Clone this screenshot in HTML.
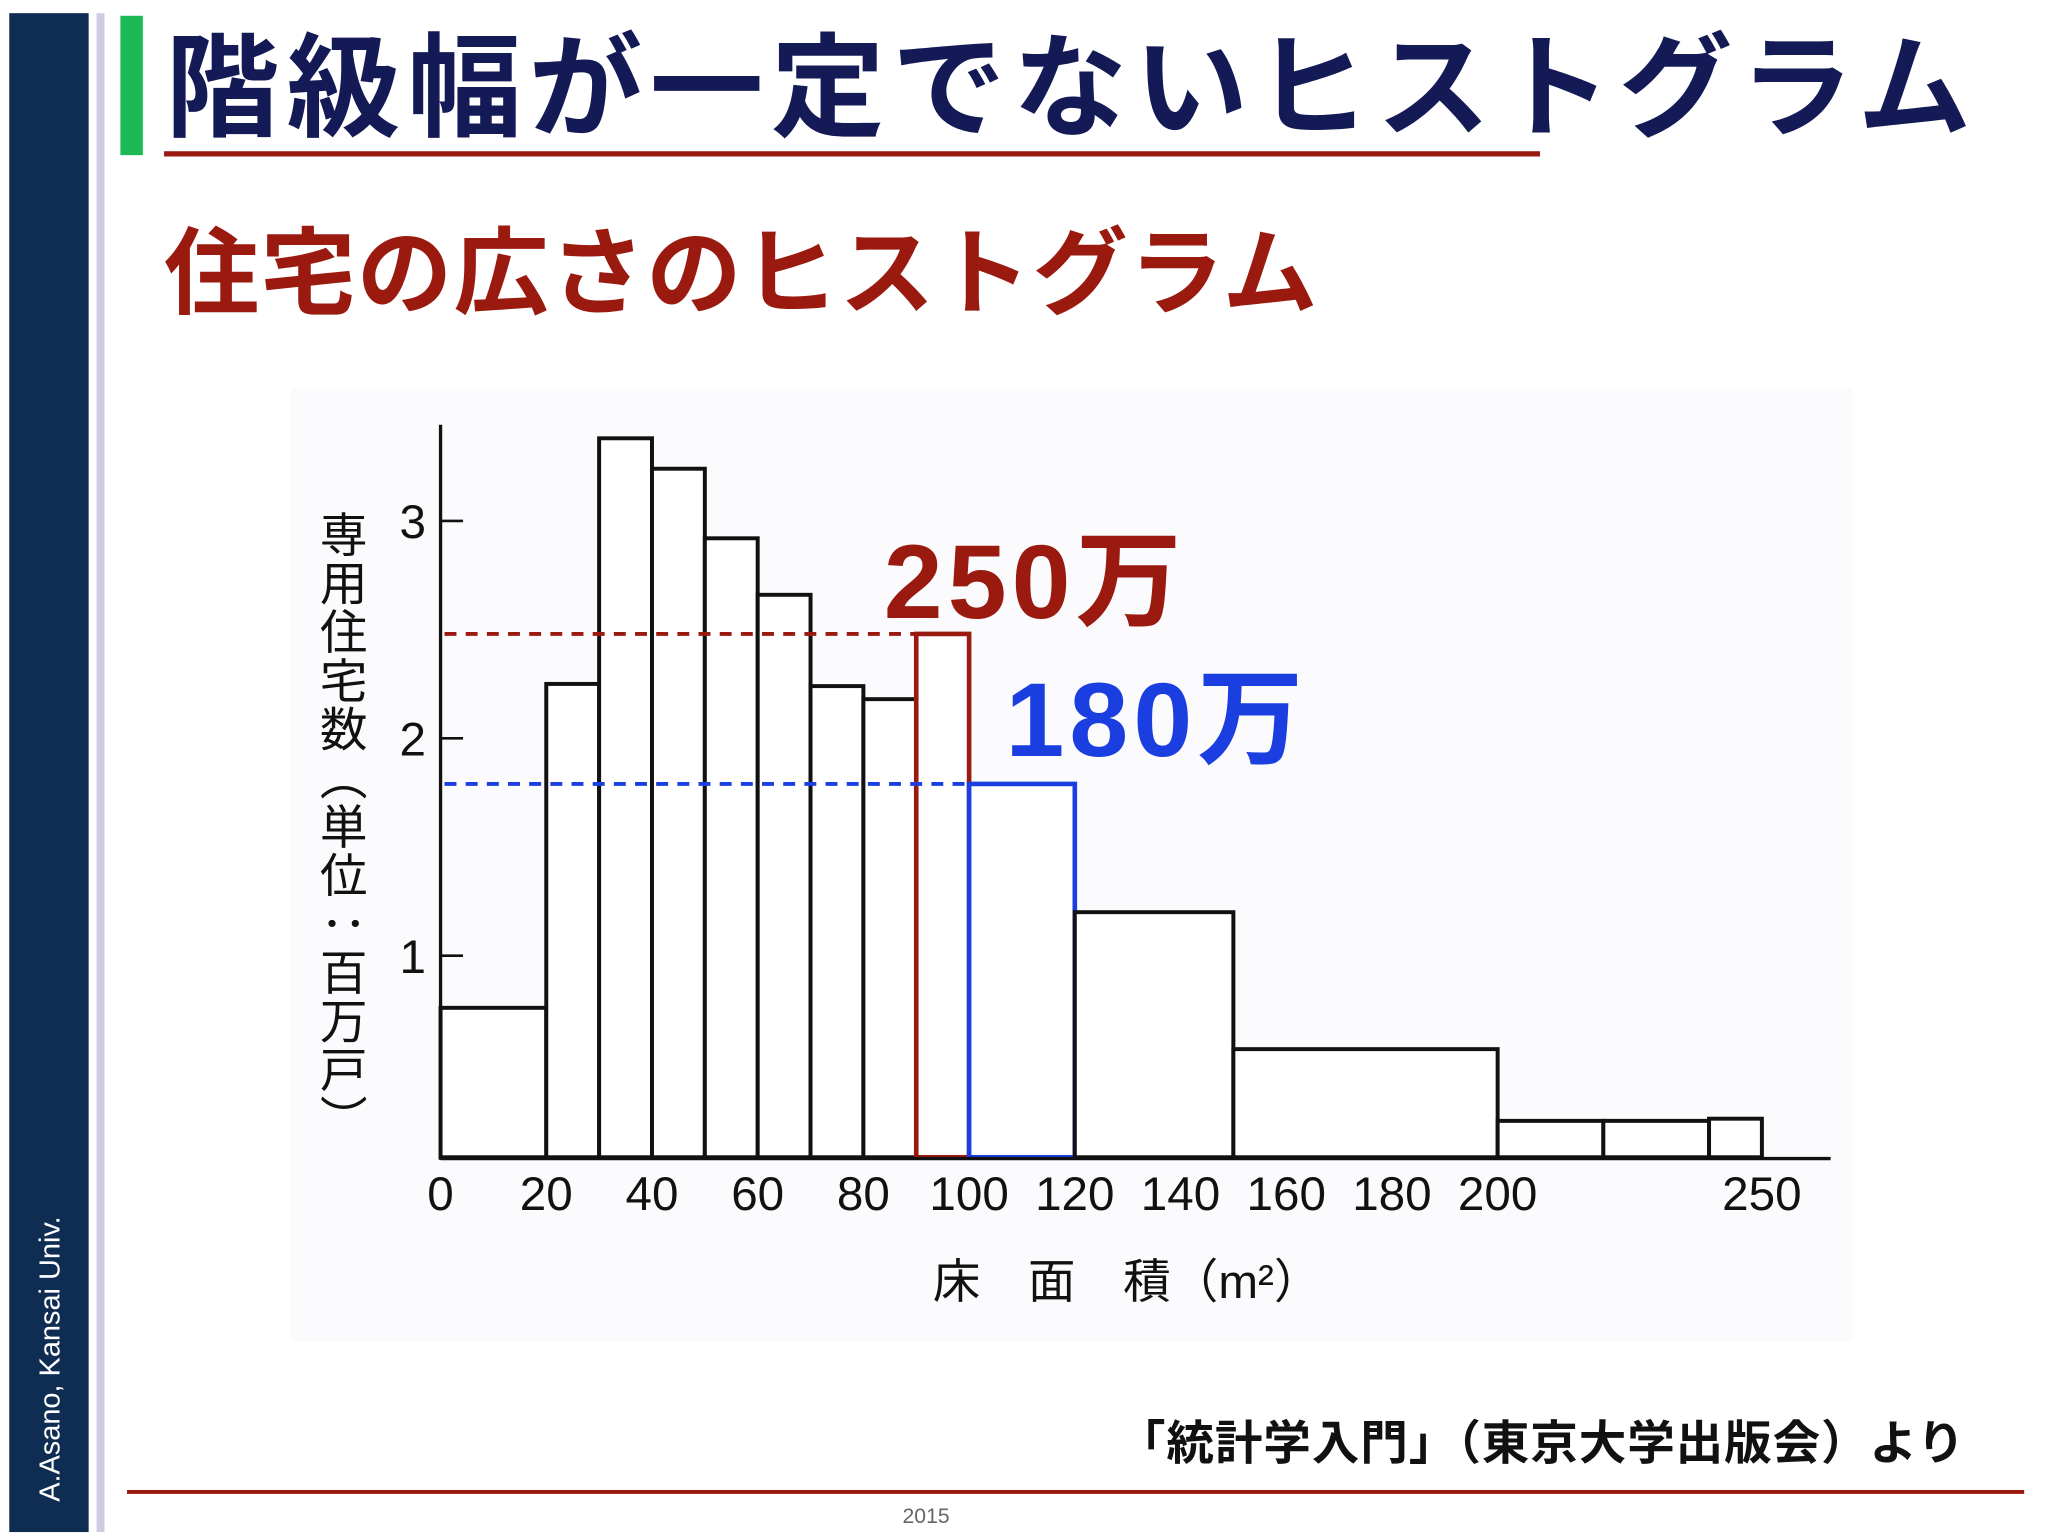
<!DOCTYPE html>
<html><head><meta charset="utf-8"><style>
html,body{margin:0;padding:0;background:#fff;}
svg{display:block;}
text{font-family:"Liberation Sans","Noto Sans CJK JP",sans-serif;}
</style></head><body>
<svg width="2048" height="1536" viewBox="0 0 1548 1168" preserveAspectRatio="none" xmlns="http://www.w3.org/2000/svg">
<rect x="0" y="0" width="1548" height="1168" fill="#ffffff"/>
<rect x="7" y="10" width="60" height="1155" fill="#0f2d52"/>
<rect x="73" y="10" width="6" height="1155" fill="#cfcbe3"/>
<text transform="translate(45,1142) rotate(-90)" font-size="22" fill="#ffffff">A.Asano, Kansai Univ.</text>
<rect x="91" y="12" width="17" height="106" fill="#1db954"/>
<text x="125" y="97" font-size="86" font-weight="bold" fill="#141a55" textLength="1365">階級幅が一定でないヒストグラム</text>
<rect x="124" y="115" width="1040" height="4" fill="#9a1a10"/>
<text x="124" y="233" font-size="72" font-weight="bold" fill="#9a1a10" textLength="872">住宅の広さのヒストグラム</text>
<rect x="220" y="295" width="1180" height="725" fill="#fbfafd"/>
<g id="chart"></g>
<text x="256" y="388" font-size="36" font-family="Liberation Serif, Noto Serif CJK SC, serif" writing-mode="tb" fill="#111" textLength="480">専用住宅数（単位：百万戸）</text>
<text x="705" y="987" font-size="36" font-family="Liberation Serif, Noto Serif CJK SC, serif" fill="#111">床　面　積（m²）</text>
<text x="668" y="470" font-size="80" font-weight="bold" fill="#9a1a10" textLength="225">250万</text>
<text x="760" y="575" font-size="80" font-weight="bold" fill="#1a3ee0" textLength="225">180万</text>
<text x="845" y="1110" font-size="36" font-weight="bold" fill="#111" textLength="640">「統計学入門」（東京大学出版会）より</text>
<rect x="96" y="1133" width="1434" height="3" fill="#9a1a10"/>
<text x="700" y="1158" font-size="16" fill="#666" text-anchor="middle">2015</text>
</svg>
<script>
const binStarts=[0,20,30,40,50,60,70,80,90,100,120,150,200,220,240,250];
const binEnds=[20,30,40,50,60,70,80,90,100,120,150,200,220,240,250,263];
const counts=[0.76,2.25,3.38,3.24,2.92,2.66,2.24,2.18,2.48,1.79,1.20,0.57,0.24,0.24,0.25,0.06];
const xTicks=[0,20,40,60,80,100,120,140,160,180,200,250];
const yTicks=[1,2,3];
const refRed=2.48, refBlue=1.79;
const NS="http://www.w3.org/2000/svg";
const sx=v=>333+v*3.995;
const sy=v=>892-v*165.3;
const g=document.getElementById('chart');
function mk(tag,attrs){const e=document.createElementNS(NS,tag);for(const k in attrs)e.setAttribute(k,attrs[k]);g.appendChild(e);return e;}
const yAxis=mk('line',{x1:333,y1:323,x2:333,y2:882,stroke:'#111','stroke-width':2.5});


yTicks.forEach(t=>{
  const l=mk('line',{x1:333,y1:sy(t),x2:350,y2:sy(t),stroke:'#111','stroke-width':2});
  
  
  const tx=mk('text',{x:312,y:sy(t)+13,'font-size':36,'text-anchor':'middle','font-family':'Liberation Serif, serif',fill:'#111'});
  tx.textContent=t;
  
  
});
binStarts.forEach((s,i)=>{
  const col=i===8?'#9a1a10':(i===9?'#1a3ee0':'#111');
  const r=mk('rect',{x:sx(s),y:sy(counts[i]),width:sx(binEnds[i])-sx(s),height:880-sy(counts[i]),fill:'#fff',stroke:col,'stroke-width':i>=8&&i<=9?3.5:3});
  
  
});
const base=mk('line',{x1:333,y1:881,x2:sx(263),y2:881,stroke:'#111','stroke-width':2.5});


const dr=mk('line',{x1:336,y1:sy(refRed),x2:sx(90),y2:sy(refRed),stroke:'#9a1a10','stroke-width':3,'stroke-dasharray':'9 7'});


const db=mk('line',{x1:336,y1:sy(refBlue),x2:sx(100),y2:sy(refBlue),stroke:'#1a3ee0','stroke-width':3,'stroke-dasharray':'9 7'});


xTicks.forEach(t=>{
  const tx=mk('text',{x:sx(t),y:920,'font-size':36,'text-anchor':'middle','font-family':'Liberation Serif, serif',fill:'#111'});
  tx.textContent=t;
  
  
});
</script>
</body></html>
